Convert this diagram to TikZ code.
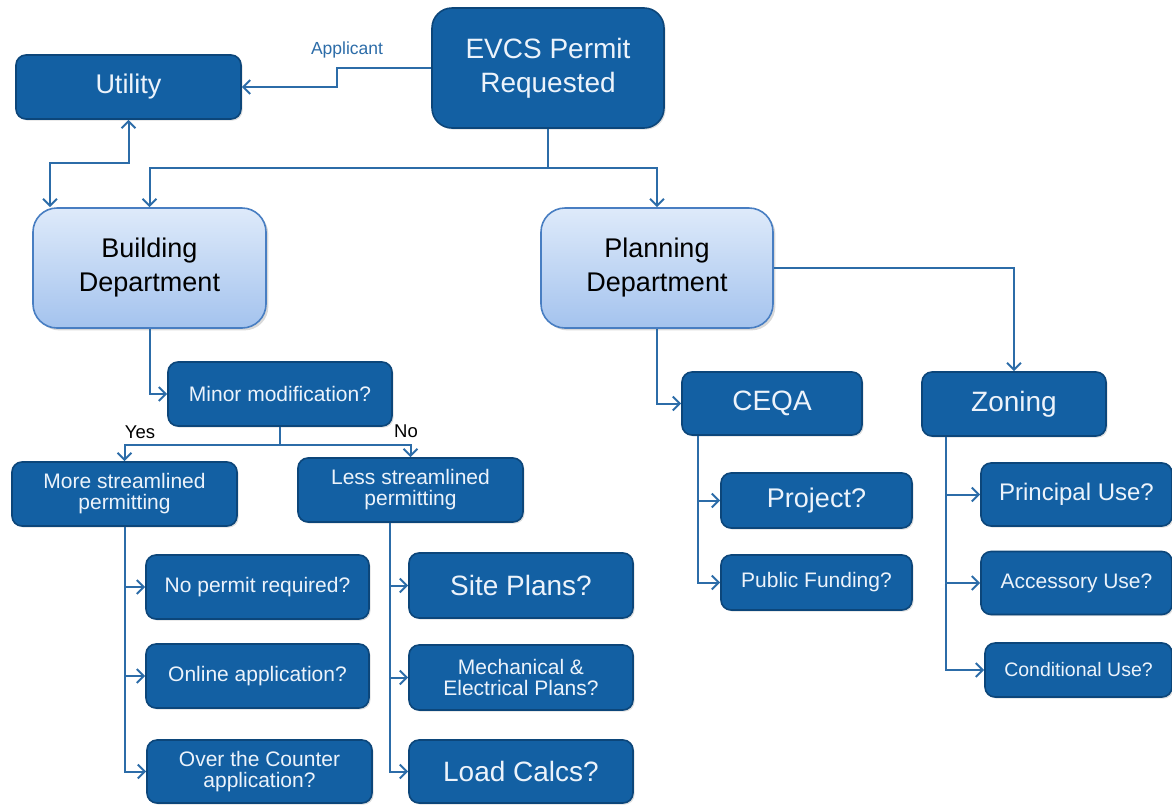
\documentclass[tikz,border=0pt]{standalone}
\usepackage{fontspec}
\setmainfont{Liberation Sans}
\usetikzlibrary{
  arrows.meta,
  shadows,
  calc
}
\definecolor{boxfill}{RGB}{19, 96, 163}
\definecolor{boxborder}{RGB}{12, 70, 122}
\definecolor{boxtext}{RGB}{236, 243, 251}
\definecolor{linkcolor}{RGB}{44, 108, 168}
\definecolor{depttop}{RGB}{222, 234, 250}
\definecolor{deptbottom}{RGB}{164, 195, 238}
\definecolor{deptborder}{RGB}{72, 126, 194}
\tikzset{
stepbox/.style={
  draw=boxborder,
  fill=boxfill,
  text=boxtext,
  rounded corners=5pt,
  line width=0.8pt,
  align=center,
  inner sep=2pt,
  drop shadow={shadow xshift=0.8pt, shadow yshift=-0.8pt, opacity=0.25}
},
deptbox/.style={
  draw=deptborder,
  top color=depttop,
  bottom color=deptbottom,
  text=black,
  rounded corners=12pt,
  line width=0.8pt,
  align=center,
  inner sep=2pt,
  drop shadow={shadow xshift=1.2pt, shadow yshift=-1.2pt, opacity=0.3}
},
boxsize/.style 2 args={
  minimum width=#1,
  minimum height=#2
},
fs/.style 2 args={
  font=\fontsize{#1}{#2}\selectfont
},
link/.style={
  -{Straight Barb[length=3.5pt,width=7pt]},
  line width=1pt,
  draw=linkcolor
},
linkboth/.style={
  link,
  {Straight Barb[length=3.5pt,width=7pt]}-{Straight Barb[length=3.5pt,width=7pt]}
}
}

\begin{document}
\begin{tikzpicture}[x=0.5pt, y=-0.5pt]
  \useasboundingbox (0,0) rectangle (1172,804);

  \node[stepbox, boxsize={116pt}{60pt}, rounded corners=10pt, fs={14}{17}] (evcs) at (548,68) {EVCS Permit\\Requested};
  \node[stepbox, boxsize={112.5pt}{32pt}, fs={13.5}{16}] (utility) at (128.5,87) {Utility};
  \node[deptbox, boxsize={116.5pt}{60pt}, fs={13.5}{17}] (build) at (149.5,268) {Building\\Department};
  \node[deptbox, boxsize={116pt}{60pt}, fs={13.5}{17}] (plan) at (657,268) {Planning\\Department};

  \node[stepbox, boxsize={112pt}{32pt}, fs={10.5}{12}] (minor) at (280,394) {Minor modification?};
  \node[stepbox, boxsize={112.5pt}{32pt}, fs={10.5}{10.5}] (more) at (124.5,494) {More streamlined\\permitting};
  \node[stepbox, boxsize={112.5pt}{32pt}, fs={10.5}{10.5}] (less) at (410.5,490) {Less streamlined\\permitting};

  \node[stepbox, boxsize={111.5pt}{32pt}, fs={10.5}{12}] (nopermit) at (257.5,587) {No permit required?};
  \node[stepbox, boxsize={111.5pt}{32pt}, fs={10.5}{12}] (online) at (257.5,676) {Online application?};
  \node[stepbox, boxsize={112.5pt}{31.5pt}, fs={10.5}{10.5}] (counter) at (259.5,771.5) {Over the Counter\\application?};

  \node[stepbox, boxsize={112pt}{32.5pt}, fs={14}{16}] (site) at (521,585.5) {Site Plans?};
  \node[stepbox, boxsize={112pt}{32.5pt}, fs={10.5}{10.5}] (mech) at (521,677.5) {Mechanical \&\\Electrical Plans?};
  \node[stepbox, boxsize={112pt}{31.5pt}, fs={14}{16}] (load) at (521,771.5) {Load Calcs?};

  \node[stepbox, boxsize={90pt}{31.5pt}, fs={14}{16}] (ceqa) at (772,403.5) {CEQA};
  \node[stepbox, boxsize={92pt}{32pt}, fs={14}{16}] (zoning) at (1014,404) {Zoning};
  \node[stepbox, boxsize={95.5pt}{27.5pt}, fs={13.5}{15}] (project) at (816.5,500.5) {Project?};
  \node[stepbox, boxsize={95.5pt}{27.5pt}, fs={10.5}{12}] (funding) at (816.5,582.5) {Public Funding?};
  \node[stepbox, boxsize={95.5pt}{31.5pt}, fs={12}{14}] (principal) at (1076.5,494.5) {Principal Use?};
  \node[stepbox, boxsize={95.5pt}{31.5pt}, fs={10.5}{12}] (accessory) at (1076.5,583) {Accessory Use?};
  \node[stepbox, boxsize={93.5pt}{27pt}, fs={9.75}{11}] (conditional) at (1078.5,670) {Conditional Use?};

  \node[fs={8.75}{10}, text=linkcolor] (applicant) at (347,50) {Applicant};
  \node[fs={9.25}{10}] (yes) at (140,432) {Yes};
  \node[fs={9.25}{10}] (no) at (406,431) {No};

  \coordinate (appbend) at (337,68);
  \coordinate (ujoin) at (50,163);
  \coordinate (split) at (548,168);
  \coordinate (yesno) at (280,445);
  \coordinate (lessbus) at (390,0);
  \coordinate (ceqabus) at (698,0);
  \coordinate (zonebus) at (946,0);

  \draw[link] (evcs.west) -- (appbend) |- (utility.east);
  \draw[linkboth] (utility.south) -- (utility |- ujoin) -- (ujoin) -- (ujoin |- build.north);
  \draw[link] (evcs.south) -- (split) -| (build.north);
  \draw[link] (split) -| (plan.north);

  \draw[link] (build.south) |- (minor.west);
  \draw[link] (minor.south) -- (yesno) -| (more.north);
  \draw[link] (yesno) -| (less.north);

  \draw[link] (more.south) |- (nopermit.west);
  \draw[link] (more.south) |- (online.west);
  \draw[link] (more.south) |- (counter.west);
  \draw[link] (lessbus |- less.south) |- (site.west);
  \draw[link] (lessbus |- less.south) |- (mech.west);
  \draw[link] (lessbus |- less.south) |- (load.west);

  \draw[link] (plan.south) |- (ceqa.west);
  \draw[link] (plan.east) -| (zoning.north);
  \draw[link] (ceqabus |- ceqa.south) |- (project.west);
  \draw[link] (ceqabus |- ceqa.south) |- (funding.west);
  \draw[link] (zonebus |- zoning.south) |- (principal.west);
  \draw[link] (zonebus |- zoning.south) |- (accessory.west);
  \draw[link] (zonebus |- zoning.south) |- (conditional.west);
\end{tikzpicture}
\end{document}
